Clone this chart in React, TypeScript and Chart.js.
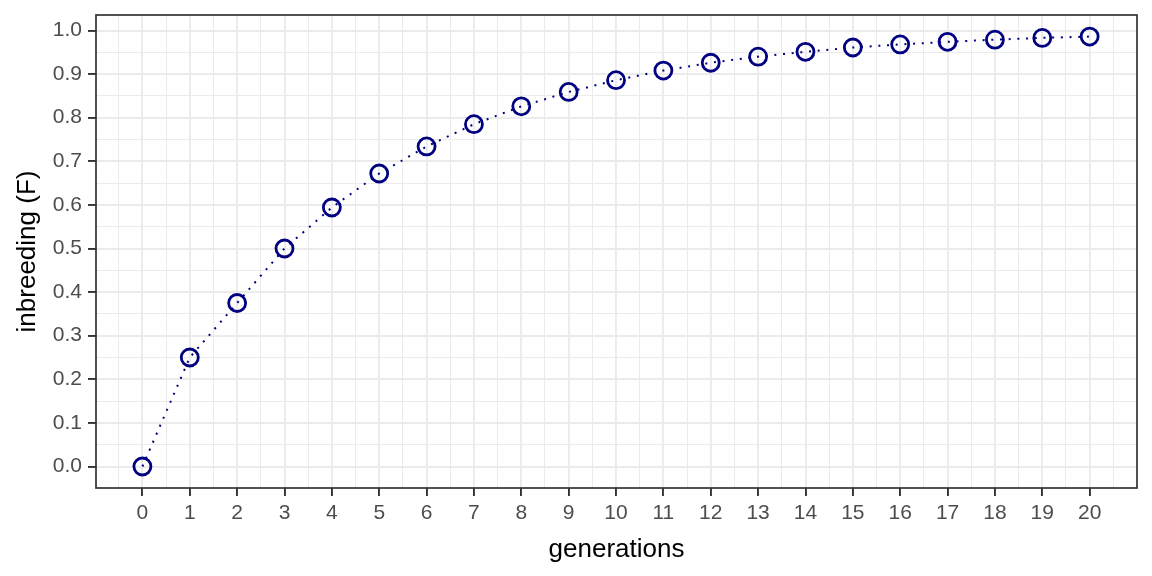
import React, { useEffect, useRef } from "react";
import { Chart, registerables } from "chart.js";

Chart.register(...registerables);

const generations = [0, 1, 2, 3, 4, 5, 6, 7, 8, 9, 10, 11, 12, 13, 14, 15, 16, 17, 18, 19, 20];
const inbreeding = [
  0, 0.25, 0.375, 0.5, 0.594, 0.672, 0.734, 0.785, 0.826, 0.859, 0.886,
  0.908, 0.926, 0.94, 0.951, 0.961, 0.968, 0.974, 0.979, 0.983, 0.986,
];
const xTickValues = [0, 1, 2, 3, 4, 5, 6, 7, 8, 9, 10, 11, 12, 13, 14, 15, 16, 17, 18, 19, 20];
const yTickValues = [0, 0.1, 0.2, 0.3, 0.4, 0.5, 0.6, 0.7, 0.8, 0.9, 1.0];
const xTitle = "generations";
const yTitle = "inbreeding (F)";

const NAVY = "#000080";
const FONT = "'Liberation Sans', Arial, sans-serif";

function withMinor(major: number[], step: number, min: number, max: number) {
  const out: { value: number; major: boolean }[] = [];
  const start = major[0] - step / 2;
  const end = major[major.length - 1] + step / 2;
  for (let i = 0; ; i++) {
    const v = +(start + (i * step) / 2).toFixed(6);
    if (v > end + 1e-9) break;
    if (v < min || v > max) continue;
    const isMajor = major.some((m) => Math.abs(m - v) < 1e-6);
    out.push({ value: v, major: isMajor });
  }
  return out;
}

const X_MIN = -0.98;
const X_MAX = 21;
const Y_MIN = -0.0493;
const Y_MAX = 1.0355;

const xTicksAll = withMinor(xTickValues, 1, X_MIN, X_MAX);
const yTicksAll = withMinor(yTickValues, 0.1, Y_MIN, Y_MAX);

const isMajorX = (v: number) => xTickValues.some((m) => Math.abs(m - v) < 1e-6);
const isMajorY = (v: number) => yTickValues.some((m) => Math.abs(m - v) < 1e-6);

const panelBorder = {
  id: "panelBorder",
  afterDatasetsDraw(chart: any) {
    const { ctx, chartArea } = chart;
    ctx.save();
    ctx.strokeStyle = "#333333";
    ctx.lineWidth = 1.7;
    ctx.strokeRect(chartArea.left, chartArea.top, chartArea.right - chartArea.left, chartArea.bottom - chartArea.top);
    ctx.restore();
  },
};

export default function App() {
  const ref = useRef<HTMLCanvasElement | null>(null);

  useEffect(() => {
    if (!ref.current) return;
    const chart = new Chart(ref.current, {
      type: "line",
      data: {
        datasets: [
          {
            data: generations.map((g, i) => ({ x: g, y: inbreeding[i] })),
            borderColor: NAVY,
            borderWidth: 2,
            borderDash: [2, 6.7],
            backgroundColor: "transparent",
            pointStyle: "circle",
            pointRadius: 8.5,
            pointBorderWidth: 2.8,
            pointBorderColor: NAVY,
            pointBackgroundColor: "transparent",
            fill: false,
            tension: 0,
          },
        ],
      },
      plugins: [panelBorder],
      options: {
        responsive: false,
        animation: false,
        events: [],
        layout: { padding: { left: 0, top: 15, right: 15, bottom: 0 } },
        plugins: { legend: { display: false }, tooltip: { enabled: false } },
        scales: {
          x: {
            type: "linear",
            min: X_MIN,
            max: X_MAX,
            afterBuildTicks: (scale: any) => {
              scale.ticks = xTicksAll.map((t) => ({ value: t.value }));
            },
            afterFit: (scale: any) => {
              scale.height = 88;
              scale.paddingLeft = 0;
              scale.paddingRight = 0;
            },
            border: { display: false },
            grid: {
              color: "#EBEBEB",
              lineWidth: (ctx: any) => (isMajorX(ctx.tick.value) ? 1.9 : 1),
              tickColor: (ctx: any) => (isMajorX(ctx.tick.value) ? "#333333" : "rgba(0,0,0,0)"),
              tickWidth: 1.9,
              tickLength: 8,
              drawTicks: true,
            },
            ticks: {
              autoSkip: false,
              maxRotation: 0,
              padding: 5,
              color: "#4D4D4D",
              font: { family: FONT, size: 21 },
              callback: (v: any) => (isMajorX(Number(v)) ? String(Math.round(Number(v))) : ""),
            },
            title: {
              display: true,
              text: xTitle,
              color: "#000000",
              font: { family: FONT, size: 26 },
              padding: { top: 0, bottom: 11 },
            },
          },
          y: {
            type: "linear",
            min: Y_MIN,
            max: Y_MAX,
            afterBuildTicks: (scale: any) => {
              scale.ticks = yTicksAll.map((t) => ({ value: t.value }));
            },
            afterFit: (scale: any) => {
              scale.width = 96;
              scale.paddingTop = 0;
              scale.paddingBottom = 0;
            },
            border: { display: false },
            grid: {
              color: "#EBEBEB",
              lineWidth: (ctx: any) => (isMajorY(ctx.tick.value) ? 1.9 : 1),
              tickColor: (ctx: any) => (isMajorY(ctx.tick.value) ? "#333333" : "rgba(0,0,0,0)"),
              tickWidth: 1.9,
              tickLength: 8,
              drawTicks: true,
            },
            ticks: {
              autoSkip: false,
              padding: 6,
              color: "#4D4D4D",
              font: { family: FONT, size: 21 },
              callback: (v: any) => (isMajorY(Number(v)) ? Number(v).toFixed(1) : ""),
            },
            title: {
              display: true,
              text: yTitle,
              color: "#000000",
              font: { family: FONT, size: 26 },
              padding: { top: 12, bottom: 0 },
            },
          },
        },
      },
    } as any);
    return () => chart.destroy();
  }, []);

  return (
    <div style={{ position: "fixed", left: 0, top: 0, width: 1152, height: 576, background: "#ffffff" }}>
      <canvas ref={ref} width={1152} height={576} style={{ display: "block" }} />
    </div>
  );
}
